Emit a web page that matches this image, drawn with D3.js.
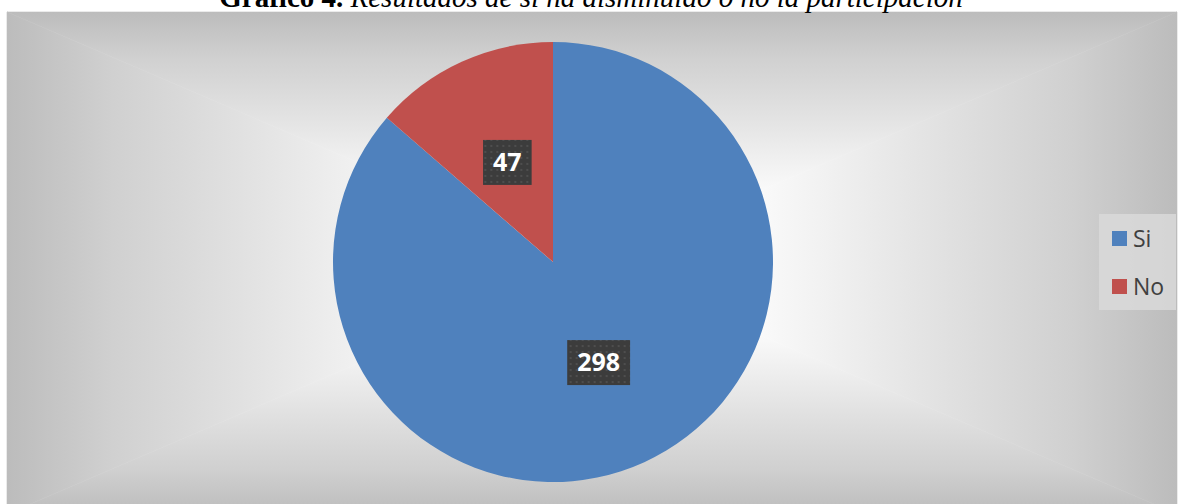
<!DOCTYPE html>
<html>
<head>
<meta charset="utf-8">
<script src="https://cdn.jsdelivr.net/npm/d3@7"></script>
<style>
  html, body { margin: 0; padding: 0; background: #ffffff; }
  svg { display: block; }
</style>
</head>
<body>
<svg id="chart" width="1180" height="504"></svg>
<script>
// ---- data ----
const categories = ["Si", "No"];
const values = [298, 47];
const colors = ["#4f81bd", "#c0504d"];
const titleBold = "Gráfico 4.";
const titleItalic = " Resultados de si ha disminuido o no la participación";

// ---- layout ----
const W = 1180, H = 504;
const frame = { x0: 7, y0: 12, x1: 1177, y1: 514 };
const cx = 553, cy = 262, R = 220;

const svg = d3.select("#chart");
const defs = svg.append("defs");

// rectangular "path" gradient background built from four triangles
const gcx = (frame.x0 + frame.x1) / 2, gcy = (frame.y0 + frame.y1) / 2;
const stops = [
  [0, "#bcbcbc"], [0.18, "#d0d0d0"], [0.4, "#e1e1e1"], [0.6, "#f1f1f1"], [0.78, "#ffffff"], [1, "#ffffff"]
];
const sides = [
  { id: "gTop", pts: [[frame.x0, frame.y0], [frame.x1, frame.y0], [gcx, gcy]], g: [gcx, frame.y0, gcx, gcy] },
  { id: "gBot", pts: [[frame.x0, frame.y1], [frame.x1, frame.y1], [gcx, gcy]], g: [gcx, frame.y1, gcx, gcy] },
  { id: "gLeft", pts: [[frame.x0, frame.y0], [frame.x0, frame.y1], [gcx, gcy]], g: [frame.x0, gcy, gcx, gcy] },
  { id: "gRight", pts: [[frame.x1, frame.y0], [frame.x1, frame.y1], [gcx, gcy]], g: [frame.x1, gcy, gcx, gcy] }
];
sides.forEach(s => {
  const lg = defs.append("linearGradient").attr("id", s.id)
    .attr("gradientUnits", "userSpaceOnUse")
    .attr("x1", s.g[0]).attr("y1", s.g[1]).attr("x2", s.g[2]).attr("y2", s.g[3]);
  stops.forEach(st => lg.append("stop").attr("offset", st[0]).attr("stop-color", st[1]));
});
const bg = svg.append("g");
sides.forEach(s => {
  bg.append("path")
    .attr("d", "M" + s.pts.map(p => p.join(",")).join("L") + "Z")
    .attr("fill", `url(#${s.id})`)
    .attr("stroke", `url(#${s.id})`)
    .attr("stroke-width", 0.6);
});

// dotted pattern for data label boxes
const pat = defs.append("pattern").attr("id", "dots")
  .attr("patternUnits", "userSpaceOnUse").attr("width", 6).attr("height", 6);
pat.append("rect").attr("width", 6).attr("height", 6).attr("fill", "#3c3c3c");
pat.append("rect").attr("x", 1).attr("y", 1).attr("width", 2).attr("height", 2).attr("fill", "#4e4e4e");

// ---- title ----
const title = svg.append("text")
  .attr("x", 591).attr("y", 7)
  .attr("text-anchor", "middle")
  .attr("font-family", "'Liberation Serif', 'Times New Roman', serif")
  .attr("font-size", 29)
  .attr("fill", "#000");
title.append("tspan").attr("font-weight", "bold").text(titleBold);
title.append("tspan").attr("font-style", "italic").text(titleItalic);

// ---- pie ----
const pie = d3.pie().sort(null).value(d => d.v);
const arcs = pie(categories.map((c, i) => ({ c, v: values[i], col: colors[i] })));
const arc = d3.arc().innerRadius(0).outerRadius(R);
const labelArc = d3.arc().innerRadius(R * 0.5).outerRadius(R * 0.5);

const g = svg.append("g").attr("transform", `translate(${cx},${cy})`);
g.selectAll("path.slice").data(arcs).enter().append("path")
  .attr("class", "slice")
  .attr("d", arc)
  .attr("fill", d => d.data.col);

const labels = g.selectAll("g.lbl").data(arcs).enter().append("g")
  .attr("class", "lbl")
  .attr("transform", d => `translate(${labelArc.centroid(d)})`);
labels.each(function(d) {
  const sel = d3.select(this);
  const t = sel.append("text")
    .attr("text-anchor", "middle")
    .attr("dy", "0.36em")
    .attr("font-family", "'Open Sans', 'Noto Sans', sans-serif")
    .attr("font-weight", "bold")
    .attr("font-size", 25)
    .attr("fill", "#ffffff")
    .text(d.data.v);
  const w = t.node().getComputedTextLength();
  sel.insert("rect", "text")
    .attr("x", -w / 2 - 10).attr("y", -22)
    .attr("width", w + 20).attr("height", 45)
    .attr("fill", "url(#dots)");
});

// ---- legend ----
const lg = svg.append("g");
lg.append("rect").attr("x", 1099).attr("y", 214).attr("width", 77).attr("height", 96)
  .attr("fill", "#d9d9d9").attr("fill-opacity", 0.85);
const items = lg.selectAll("g.item").data(categories).enter().append("g")
  .attr("class", "item")
  .attr("transform", (d, i) => `translate(1112, ${231 + i * 48})`);
items.append("rect").attr("width", 15).attr("height", 15).attr("fill", (d, i) => colors[i]);
items.append("text")
  .attr("x", 21).attr("y", 16)
  .attr("font-family", "'Open Sans', 'Noto Sans', sans-serif")
  .attr("font-size", 23)
  .attr("fill", "#404040")
  .text(d => d);
</script>
</body>
</html>
